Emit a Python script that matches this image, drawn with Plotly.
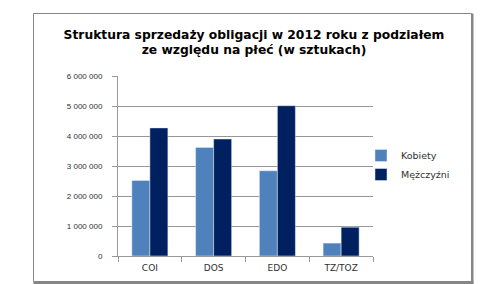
import plotly.graph_objects as go

categories = ["COI", "DOS", "EDO", "TZ/TOZ"]
kobiety = [2520000, 3620000, 2840000, 430000]
mezczyzni = [4270000, 3900000, 5010000, 960000]
series_names = ["Kobiety", "Mężczyźni"]
title_text = "Struktura sprzedaży obligacji w 2012 roku z podziałem<br>ze względu na płeć (w sztukach)"

W, H = 496, 284
L, R, T, B = 118, 123, 76, 28
pw, ph = W - L - R, H - T - B

def px_x(p):
    return (p - L) / pw

def px_y(p):
    return (H - B - p) / ph

fig = go.Figure()
fig.add_trace(go.Bar(x=categories, y=kobiety, name=series_names[0], marker_color="#4F81BD"))
fig.add_trace(go.Bar(x=categories, y=mezczyzni, name=series_names[1], marker_color="#002060"))

border = "#858585"
fig.update_layout(
    width=W, height=H,
    margin=dict(l=L, r=R, t=T, b=B),
    paper_bgcolor="white", plot_bgcolor="white",
    separators=", ",
    barmode="group", bargap=0.435, bargroupgap=0,
    font=dict(family="Liberation Sans, Arial, sans-serif", color="#404040"),
    title=dict(text=title_text, x=254 / W, xanchor="center", xref="container",
               y=1 - 38.5 / H, yanchor="middle", yref="container",
               font=dict(family="DejaVu Sans, sans-serif", size=12.3, color="black", weight="bold")),
    legend=dict(x=px_x(361), y=px_y(141), xanchor="left", yanchor="top",
                font=dict(family="DejaVu Sans, sans-serif", size=9.5, color="#303030"),
                bgcolor="rgba(0,0,0,0)", tracegroupgap=0, itemwidth=30),
    showlegend=True,
    shapes=[
        dict(type="rect", xref="paper", yref="paper",
             x0=px_x(33.5), x1=px_x(471.5), y0=px_y(281.5), y1=px_y(13.5),
             line=dict(color=border, width=1), layer="below"),
        dict(type="line", xref="paper", yref="paper",
             x0=px_x(472.5), x1=px_x(472.5), y0=px_y(283.5), y1=px_y(13.5),
             line=dict(color=border, width=2), layer="below"),
        dict(type="line", xref="paper", yref="paper",
             x0=px_x(33.5), x1=px_x(473.5), y0=px_y(282.8), y1=px_y(282.8),
             line=dict(color=border, width=2.5), layer="below"),
    ],
)
fig.update_xaxes(showline=True, linecolor="#9a9a9a", linewidth=1,
                 ticks="outside", ticklen=5, tickcolor="#9a9a9a", tickson="boundaries",
                 tickfont=dict(family="DejaVu Sans, sans-serif", size=9, color="#303030"),
                 ticklabelstandoff=3, showgrid=False)
fig.update_yaxes(range=[0, 6000000], dtick=1000000, tickformat=",d",
                 showline=True, linecolor="#9a9a9a", linewidth=1,
                 ticks="outside", ticklen=5, tickcolor="#9a9a9a",
                 gridcolor="#969696", gridwidth=1, zeroline=False,
                 tickfont=dict(size=8, color="#303030"), ticklabelstandoff=8)

fig.write_html("out.html")
